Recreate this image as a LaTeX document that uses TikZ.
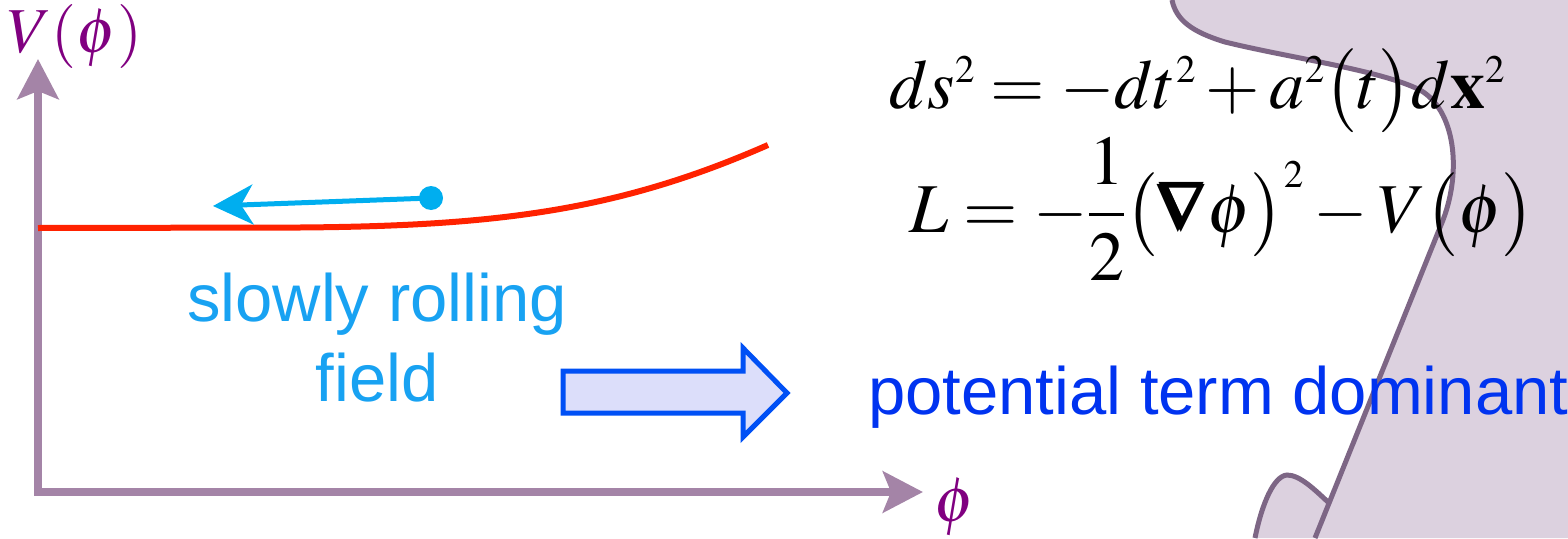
\documentclass[tikz,border=0pt]{standalone}
\usepackage{amsmath}
\usepackage{mathptmx}
\usepackage[no-math]{fontspec}
\usepackage{tikz}
\usetikzlibrary{arrows.meta}
\newfontfamily\labelfont{Liberation Sans}
\DeclareMathSizes{70}{70}{39}{29}
\DeclareMathSizes{64}{64}{36}{26}
\definecolor{axiscol}{HTML}{A484A7}
\definecolor{plum}{HTML}{800080}
\definecolor{potcol}{HTML}{FF2200}
\definecolor{rollcol}{HTML}{00AEEF}
\definecolor{rolltext}{HTML}{18A2F2}
\definecolor{termcol}{HTML}{0033F0}
\definecolor{blockline}{HTML}{0050F5}
\definecolor{blockfill}{HTML}{DCDEFA}
\definecolor{blobfill}{HTML}{DCD1DF}
\definecolor{blobline}{HTML}{7D6685}
\newcommand{\blobedge}{(1172,0) .. controls (1176,20) and (1192,32) .. (1225,42)
  .. controls (1290,58) and (1380,70) .. (1420,90)
  .. controls (1455,110) and (1462,170) .. (1443,220) -- (1315,538)}
\newcommand{\blobbump}{(1255,538) .. controls (1262,503) and (1274,476) .. (1287,475)
  .. controls (1300,475) and (1315,490) .. (1329,503)}

\begin{document}
\begin{tikzpicture}[x=1pt, y=-1pt,
  axisline/.style={axiscol, line width=8pt, line cap=rect,
    -{Stealth[length=40pt, width=41pt, inset=8pt]}},
  eqn/.style={inner sep=0pt, anchor=base west, font=\fontsize{70}{84}\selectfont},
  lbl/.style={inner sep=0pt, font=\labelfont\fontsize{67}{80}\selectfont}]

\useasboundingbox (0,0) rectangle (1568,538);

\fill[blobfill] \blobedge -- (1568,538) -- (1568,0) -- cycle;
\fill[blobfill] \blobbump -- (1315,538) -- cycle;
\draw[blobline, line width=5pt] \blobedge;
\draw[blobline, line width=5pt] \blobbump;

\coordinate (origin) at (38,492);
\coordinate (vtop) at (38,59);
\coordinate (hend) at (923,492);
\draw[axisline] (origin) -- (vtop);
\draw[axisline] (origin) -- (hend);

\node[inner sep=0pt, anchor=base, text=plum, font=\fontsize{64}{76}\selectfont]
  (vlabel) at (75,52) {$V(\phi)$};
\node[inner sep=0pt, anchor=base, text=plum, font=\fontsize{64}{76}\selectfont]
  (philabel) at (955,521) {$\phi$};

\draw[potcol, line width=6pt] (38,228) -- (300,227.5)
  .. controls (500,226) and (620,210) .. (768,145);

\node[circle, fill=rollcol, inner sep=0pt, minimum size=24pt] (ball) at (431,198) {};
\coordinate (rollend) at (213,206);
\draw[rollcol, line width=5pt, -{Stealth[length=40pt, width=40pt, inset=12pt]}]
  (ball.center) -- (rollend);

\node[lbl, text=rolltext, align=center] (rolling) at (377,338)
  {slowly rolling\\field};

\draw[blockline, fill=blockfill, line width=5pt]
  (563,371) -- (743,371) -- (743,348) -- (787,393) -- (743,437)
  -- (743,413) -- (563,413) -- cycle;

\node[lbl, text=termcol, anchor=base west] (dominant) at (868,414)
  {potential term dominant};

\node[eqn] (metric) at (889,108)
  {$ds^2 = -dt^2 + a^2\bigl(t\bigr)d\mathbf{x}^2$};
\node[eqn] (lagrangian) at (909,232)
  {$L = -\dfrac{1}{2}\bigl(\pmb{\nabla}\phi\bigr)^2 - V\bigl(\phi\bigr)$};

\end{tikzpicture}
\end{document}
